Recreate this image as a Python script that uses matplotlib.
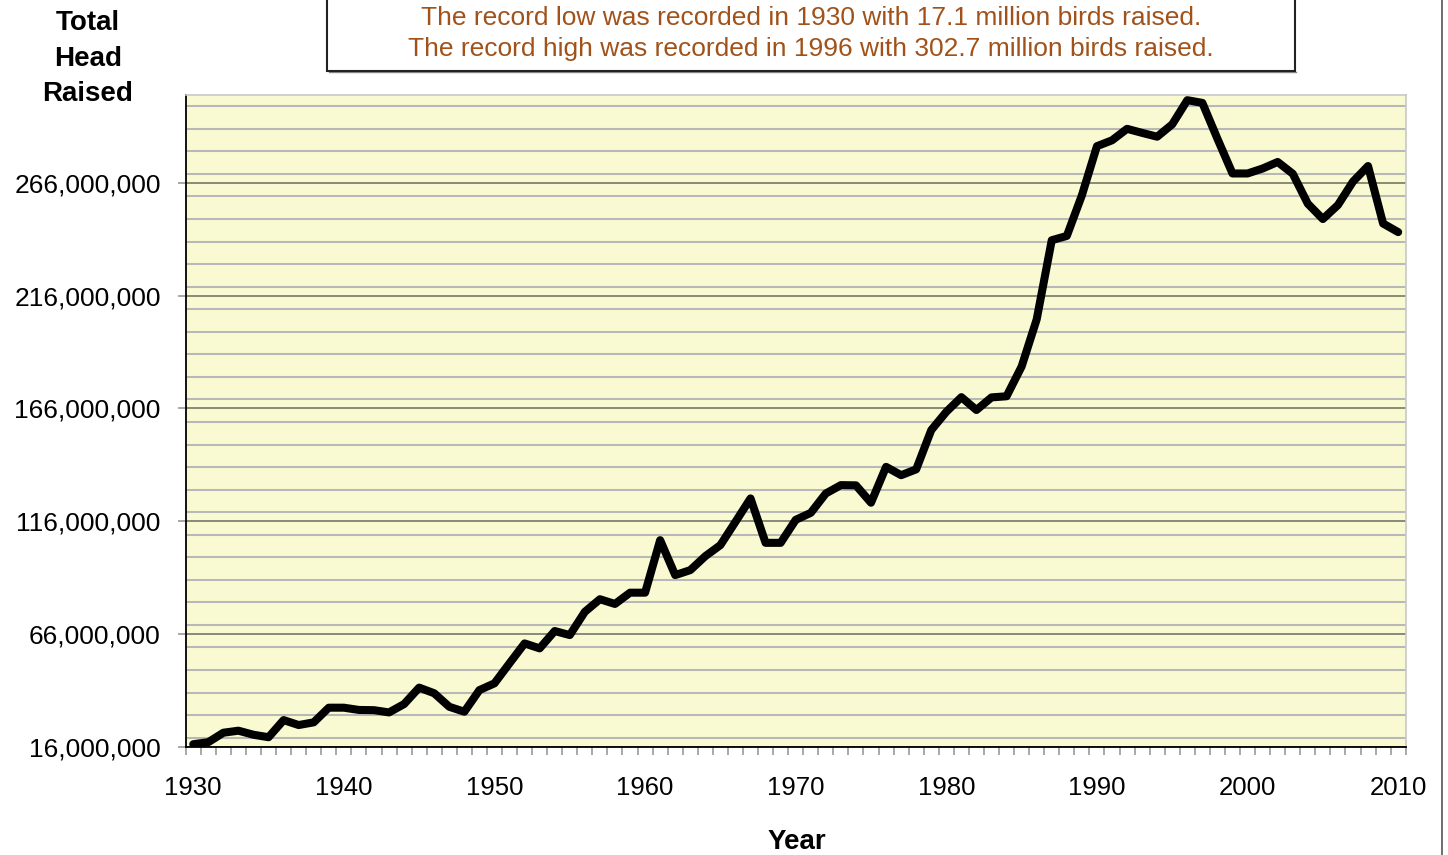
import numpy as np
import matplotlib
matplotlib.use("Agg")
import matplotlib.pyplot as plt
from matplotlib.ticker import FuncFormatter, MultipleLocator, FixedLocator
from matplotlib.patches import Rectangle
from matplotlib.lines import Line2D

years = list(range(1930, 2011))
head_raised_millions = [
    17.1, 18.0, 22.2, 23.1, 21.3, 20.2, 27.8, 25.6, 26.8, 33.3,
    33.3, 32.3, 32.2, 31.2, 34.9, 42.2, 39.7, 33.7, 31.5, 41.1,
    44.1, 53.0, 61.8, 59.6, 67.3, 65.5, 75.8, 81.4, 79.3, 84.3,
    84.3, 107.6, 92.1, 94.3, 100.5, 105.4, 115.7, 126.1, 106.4, 106.4,
    116.6, 119.7, 128.3, 132.0, 131.9, 124.2, 140.1, 136.4, 139.0, 156.4,
    164.5, 171.0, 165.3, 170.9, 171.4, 184.6, 205.5, 240.6, 242.5, 260.5,
    282.3, 284.9, 290.0, 288.2, 286.5, 292.0, 302.7, 301.5, 285.6, 270.2,
    270.2, 272.4, 275.3, 270.1, 256.8, 250.0, 256.2, 266.6, 273.5, 248.0,
    244.2,
]
y_ticks = [16e6, 66e6, 116e6, 166e6, 216e6, 266e6]
x_tick_labels = ["1930", "1940", "1950", "1960", "1970", "1980", "1990", "2000", "2010"]

plt.rcParams['font.family'] = ['Liberation Sans', 'DejaVu Sans']

W, H = 1448, 855
fig = plt.figure(figsize=(W / 100, H / 100), dpi=100)
ax = fig.add_axes([185.7 / W, 1 - 746.7 / H, (1405.7 - 185.7) / W, (746.7 - 95) / H])
ax.set_facecolor('#FAFAD2')

values = np.array(head_raised_millions) * 1e6
ax.plot(years, values, color='black', lw=5.8, solid_joinstyle='round', solid_capstyle='round', zorder=3)

ax.set_xlim(1929.5, 2010.5)
ax.set_ylim(16e6, 305e6)

# y gridlines
ax.yaxis.set_major_locator(FixedLocator(y_ticks))
ax.yaxis.set_minor_locator(MultipleLocator(10e6))
ax.yaxis.set_major_formatter(FuncFormatter(lambda v, p: f"{int(round(v)):,}"))
ax.grid(which='minor', axis='y', color='#b8b8b8', lw=1.5, zorder=1)
ax.grid(which='major', axis='y', color='#77776a', lw=1.2, zorder=1.5)
ax.tick_params(axis='y', which='major', direction='out', length=6, width=1.2, color='#999999',
               labelsize=19, pad=12)
ax.tick_params(axis='y', which='minor', length=0)

# x axis
ax.xaxis.set_major_locator(FixedLocator([int(s) for s in x_tick_labels]))
ax.set_xticklabels(x_tick_labels)
ax.xaxis.set_minor_locator(FixedLocator(np.arange(1929.5, 2011, 1.0)))
ax.tick_params(axis='x', which='major', length=0, labelsize=18.5, pad=21)
ax.tick_params(axis='x', which='minor', direction='out', length=5.5, width=1.2, color='#999999')

for s in ['top', 'right']:
    ax.spines[s].set_color('#c8c8c8')
    ax.spines[s].set_linewidth(1.2)
for s in ['left', 'bottom']:
    ax.spines[s].set_color('black')
    ax.spines[s].set_linewidth(1.3)

fig.text(88 / W, 1 - 58.5 / H, "Total\nHead\nRaised", ha='center', va='center',
         fontsize=20, fontweight='bold', linespacing=1.46)
fig.text(797 / W, 1 - 842 / H, "Year", ha='center', va='center', fontsize=20, fontweight='bold')

# annotation box
box = Rectangle((327 / W, 1 - 71 / H), (1295 - 327) / W, 80 / H, transform=fig.transFigure,
                facecolor='white', edgecolor='#222222', lw=1.5, zorder=5)
fig.patches.append(box)
shadow = Line2D([329 / W, 1296 / W], [1 - 72.5 / H, 1 - 72.5 / H], transform=fig.transFigure,
                color='#888888', lw=1.0)
fig.lines.append(shadow)
fig.text(811 / W, 1 - 33.5 / H,
         "The record low was recorded in 1930 with 17.1 million birds raised.\n"
         "The record high was recorded in 1996 with 302.7 million birds raised.",
         ha='center', va='center', color='#A0521A', fontsize=19, linespacing=1.36, zorder=6)

# outer right border
fig.lines.append(Line2D([1442 / W, 1442 / W], [0, 1], transform=fig.transFigure, color='#555555', lw=1.2))

fig.savefig('out.png', dpi=100)
